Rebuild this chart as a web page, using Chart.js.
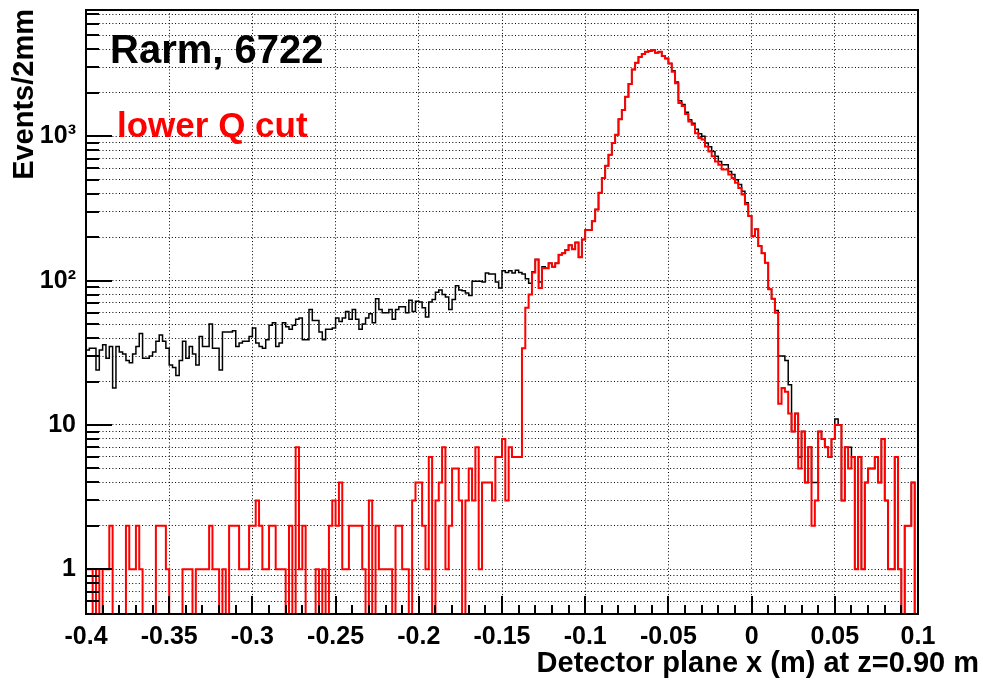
<!DOCTYPE html>
<html>
<head>
<meta charset="utf-8">
<script src="https://cdn.jsdelivr.net/npm/chart.js@4.4.0/dist/chart.umd.min.js"></script>
<style>
  body { margin: 0; background: #fff; }
  #graph { display: block; }
</style>
</head>
<body>
<canvas id="graph" width="983" height="680"></canvas>
<script>
// 250 bins of 2 mm, from -0.4 m to 0.1 m
const xLow = -0.4;
const xHigh = 0.1;
const binWidth = 0.002;

// all events (black)
const allEvents = [
  33,34,34,24,33,36,29,35,18,35,32,31,28,27,31,35,43,29,29,30,32,38,42,38,34,26,25,22,28,38,29,35,31,26,41,35,35,50,34,34,24,44,44,44,45,35,37,38,38,41,47,
  37,35,34,39,49,51,35,37,51,48,46,49,54,55,39,39,63,53,53,44,39,46,46,47,55,52,55,61,54,63,54,46,50,55,59,51,75,63,60,60,63,54,63,66,66,60,73,61,72,
  71,65,56,71,74,83,86,80,77,63,74,92,86,85,82,79,99,99,99,98,113,111,111,98,89,117,114,117,113,118,114,111,103,96,115,
  140,98,125,122,132,125,132,151,
  155,163,176,165,184,145,193,224,224,258,311,406,515,626,745,897,1024,1314,1524,1880,2300,2900,3230,3550,3710,3850,3900,3950,3790,3850,3600,3460,3200,2850,2380,1760,1660,1470,1300,
  1230,1120,1040,1000,897,845,786,726,670,636,636,570,543,500,463,416,347,280,204,227,174,155,133,87,75,62,30,30,28,19,
  9,12,6,9,4,7,4,4,9,8,7,6,8,11,10,3,7,7,6,1,6,1,4,5,5,6,4,8,3,1,1,6,1,0,2,2,4,0
];

// lower Q cut (red)
const lowerQCut = [
  1,1,0,1,0,1,1,2,0,0,0,0,2,1,1,2,1,0,0,0,0,2,2,2,1,0,0,0,0,1,1,1,0,1,1,1,1,2,1,1,0,1,0,2,2,2,1,1,1,2,2,
  3,2,1,1,2,2,1,1,1,0,2,0,7,1,2,0,0,0,1,0,1,0,2,3,2,4,1,1,2,2,2,2,1,0,3,0,2,1,1,1,1,0,2,2,1,1,0,3,
  4,4,2,1,6,0,3,4,7,1,2,5,5,3,0,3,5,3,7,1,4,4,4,3,6,6,8,3,7,6,6,6,
  34,65,80,114,140,89,122,122,132,125,132,151,
  155,163,176,165,184,145,193,224,224,258,311,406,515,626,745,897,1024,1314,1524,1880,2300,2900,3230,3550,3710,3850,3900,3950,3790,3850,3600,3460,3200,2800,2330,1700,1620,1430,1265,
  1200,1050,975,950,851,786,726,670,636,588,588,543,515,476,439,395,338,280,204,227,174,155,133,87,75,60,14,18,17,12,
  9,12,5,9,4,7,2,3,9,8,7,6,8,10,10,3,7,5,6,1,6,1,4,5,5,6,4,8,3,1,1,6,1,0,2,2,4,0
];

const xTickValues = [-0.4, -0.35, -0.3, -0.25, -0.2, -0.15, -0.1, -0.05, 0, 0.05, 0.1];
const xTickLabels = ['-0.4', '-0.35', '-0.3', '-0.25', '-0.2', '-0.15', '-0.1', '-0.05', '0', '0.05', '0.1'];

const yMin = 0.49;
const yMax = 7500;
const yGridValues = [0.6,0.7,0.8,0.9, 1,2,3,4,5,6,7,8,9, 10,20,30,40,50,60,70,80,90,
  100,200,300,400,500,600,700,800,900, 1000,2000,3000,4000,5000,6000,7000];
const yLabelValues = [1, 10, 100, 1000];
const yLabelTexts = ['1', '10', '10\u00B2', '10\u00B3'];

const FONT = '"Liberation Sans", Arial, Helvetica, sans-serif';

// histogram -> step line, empty bins sit on the bottom of the frame
function toSteps(values) {
  let pts = values.map((v, i) => ({ x: xLow + i * binWidth, y: v > 0 ? v : yMin }));
  let last = values[values.length - 1];
  pts.push({ x: xHigh, y: last > 0 ? last : yMin });
  return pts;
}

// ROOT like frame, inward ticks and the texts
const rootFrame = {
  id: 'rootFrame',
  afterDraw(chart) {
    let ctx = chart.ctx;
    let a = chart.chartArea;
    let sx = chart.scales.x;
    let sy = chart.scales.y;
    ctx.save();
    ctx.setLineDash([]);
    ctx.fillStyle = '#000';
    // y ticks, pointing into the frame
    yGridValues.forEach(v => {
      let py = Math.round(sy.getPixelForValue(v));
      let len = yLabelValues.includes(v) ? 26 : 13;
      ctx.fillRect(a.left, py - 1, len, 2);
    });
    // x ticks every 1 cm, long ones on the labels
    for (let k = 0; k <= 50; k++) {
      let px = Math.round(sx.getPixelForValue(xLow + k * 0.01));
      let len = (k % 5 === 0) ? 18 : 9;
      ctx.fillRect(px - 1, a.bottom - len, 2, len);
    }
    ctx.strokeStyle = '#000';
    ctx.lineWidth = 2;
    ctx.strokeRect(a.left, a.top, a.right - a.left, a.bottom - a.top);

    ctx.fillStyle = '#000';
    ctx.font = 'bold 40px ' + FONT;
    ctx.textAlign = 'left';
    ctx.textBaseline = 'alphabetic';
    ctx.fillText('Rarm, 6722', 110, 63);
    ctx.fillStyle = '#ff0000';
    ctx.font = 'bold 35px ' + FONT;
    ctx.fillText('lower Q cut', 117, 137);

    ctx.fillStyle = '#000';
    ctx.font = 'bold 29px ' + FONT;
    ctx.textAlign = 'right';
    ctx.fillText('Detector plane x (m) at z=0.90 m', 979, 672);

    ctx.save();
    ctx.translate(33, 9);
    ctx.rotate(-Math.PI / 2);
    ctx.font = 'bold 29px ' + FONT;
    ctx.textAlign = 'right';
    ctx.fillText('Events/2mm', 0, 0);
    ctx.restore();
    ctx.restore();
  }
};

let ctx = document.getElementById('graph');

new Chart(ctx, {
  type: 'line',
  data: {
    datasets: [
      {
        label: 'lower Q cut',
        data: toSteps(lowerQCut),
        borderColor: '#ff0000',
        borderWidth: 2,
        stepped: 'before',
        pointRadius: 0,
        fill: false
      },
      {
        label: 'all',
        data: toSteps(allEvents),
        borderColor: '#000000',
        borderWidth: 1.5,
        stepped: 'before',
        pointRadius: 0,
        fill: false
      }
    ]
  },
  options: {
    responsive: false,
    animation: false,
    devicePixelRatio: 1,
    layout: { padding: { left: 0, top: 10, right: 65, bottom: 0 } },
    plugins: {
      legend: { display: false },
      tooltip: { enabled: false }
    },
    scales: {
      x: {
        type: 'linear',
        min: xLow,
        max: xHigh,
        afterBuildTicks: scale => { scale.ticks = xTickValues.map(v => ({ value: v })); },
        afterFit: scale => {
          scale.height = 66;
          scale.paddingLeft = 0;
          scale.paddingRight = 0;
        },
        ticks: {
          autoSkip: false,
          maxRotation: 0,
          padding: 8,
          color: '#000',
          font: { family: FONT, weight: 'bold', size: 25 },
          callback: (v, i) => xTickLabels[i]
        },
        grid: { color: '#000', lineWidth: 1, drawTicks: false },
        border: { display: false, dash: [1, 2.3] }
      },
      y: {
        type: 'logarithmic',
        min: yMin,
        max: yMax,
        afterBuildTicks: scale => { scale.ticks = yGridValues.map(v => ({ value: v })); },
        afterFit: scale => {
          scale.width = 86;
          scale.paddingTop = 0;
          scale.paddingBottom = 0;
        },
        ticks: {
          autoSkip: false,
          padding: 10,
          color: '#000',
          font: { family: FONT, weight: 'bold', size: 25 },
          callback: v => {
            let k = yLabelValues.indexOf(v);
            return k >= 0 ? yLabelTexts[k] : '';
          }
        },
        grid: { color: '#000', lineWidth: 1, drawTicks: false },
        border: { display: false, dash: [1, 2.3] }
      }
    }
  },
  plugins: [rootFrame]
});
</script>
</body>
</html>
